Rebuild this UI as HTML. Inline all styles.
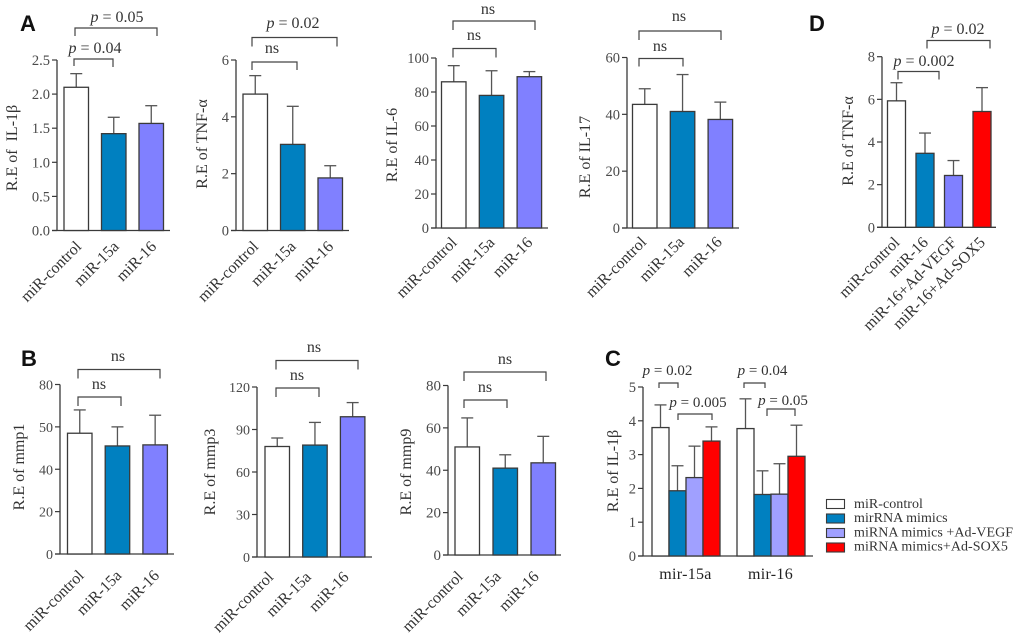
<!DOCTYPE html>
<html lang="en">
<head>
<meta charset="utf-8">
<title>Relative expression bar charts</title>
<style>
html,body{margin:0;padding:0;background:#fff;}
#figure{display:block;width:1020px;height:642px;font-family:"Liberation Serif",serif;filter:blur(0.35px);}
#figure text{white-space:pre;}
</style>
</head>
<body>
<svg id="figure" xmlns="http://www.w3.org/2000/svg" width="1020" height="642" viewBox="0 0 1020 642"></svg>
<script>
// ---------- chart data ----------
const threeCategories = ['miR-control', 'miR-15a', 'miR-16'];
const fourCategories = ['miR-control', 'miR-16', 'miR-16+Ad-VEGF', 'miR-16+Ad-SOX5'];

const il1bValues = [2.1, 1.42, 1.57];
const il1bErrors = [0.2, 0.24, 0.26];
const il1bTicks = [0, 0.5, 1, 1.5, 2, 2.5];
const il1bTickLabels = ['0.0', '0.5', '1.0', '1.5', '2.0', '2.5'];

const tnfValues = [4.8, 3.03, 1.85];
const tnfErrors = [0.65, 1.34, 0.43];
const tnfTicks = [0, 2, 4, 6];
const tnfTickLabels = ['0', '2', '4', '6'];

const il6Values = [86, 78, 89];
const il6Errors = [9.5, 14.5, 3];
const il6Ticks = [0, 20, 40, 60, 80, 100];
const il6TickLabels = ['0', '20', '40', '60', '80', '100'];

const il17Values = [43.5, 41, 38.2];
const il17Errors = [5.5, 13, 6.1];
const il17Ticks = [0, 20, 40, 60];
const il17TickLabels = ['0', '20', '40', '60'];

const tnfDValues = [5.93, 3.47, 2.43, 5.43];
const tnfDErrors = [0.85, 0.95, 0.7, 1.12];
const tnfDTicks = [0, 2, 4, 6, 8];
const tnfDTickLabels = ['0', '2', '4', '6', '8'];

const mmp1Values = [57, 51, 51.5];
const mmp1Errors = [11, 9, 14];
const mmp1Ticks = [0, 20, 40, 60, 80];
const mmp1TickLabels = ['0', '20', '40', '50', '80'];

const mmp3Values = [78, 79, 99];
const mmp3Errors = [6, 16, 10];
const mmp3Ticks = [0, 30, 60, 90, 120];
const mmp3TickLabels = ['0', '30', '60', '90', '120'];

const mmp9Values = [51, 41, 43.5];
const mmp9Errors = [13.7, 6.3, 12.5];
const mmp9Ticks = [0, 20, 40, 60, 80];
const mmp9TickLabels = ['0', '20', '40', '60', '80'];

const groupCategories = ['mir-15a', 'mir-16'];
const controlValues = [3.8, 3.77];
const controlErrors = [0.67, 0.88];
const mimicsValues = [1.93, 1.82];
const mimicsErrors = [0.74, 0.7];
const vegfValues = [2.32, 1.83];
const vegfErrors = [0.93, 0.9];
const sox5Values = [3.4, 2.95];
const sox5Errors = [0.42, 0.92];
const groupTicks = [0, 1, 2, 3, 4, 5];
const groupTickLabels = ['0', '1', '2', '3', '4', '5'];
const legendLabels = ['miR-control', 'mirRNA mimics', 'miRNA mimics +Ad-VEGF', 'miRNA mimics+Ad-SOX5'];

// ---------- styles ----------
const WHITE = '#ffffff', BLUE = '#0080c0', PERI = '#8080ff', LILAC = '#a0a0ff', RED = '#ff0000';
const INK = '#3a3a3a', TEXT = '#333333', TICKTEXT = '#4a4a4a';
const svg = document.getElementById('figure');
const NS = 'http://www.w3.org/2000/svg';

function make(tag, attrs, parent, text) {
  const node = document.createElementNS(NS, tag);
  for (const key in attrs) node.setAttribute(key, attrs[key]);
  if (text !== undefined) node.textContent = text;
  (parent || svg).appendChild(node);
  return node;
}
function slug(s) {
  return String(s).toLowerCase().replace(/[^a-z0-9]+/g, '-').replace(/^-|-$/g, '');
}

function drawAxes(g, box, ticks, labels, yMax, yTitle, titleX, titleY) {
  const y = v => box.y0 - (v / yMax) * (box.y0 - box.yTop);
  const yAxis = make('line', {x1: box.x, x2: box.x, y1: box.yTop, y2: box.y0, stroke: INK, 'stroke-width': 1.3}, g);
  
  
  const xAxis = make('line', {x1: box.x - 5, x2: box.xEnd, y1: box.y0, y2: box.y0, stroke: INK, 'stroke-width': 1.3}, g);
  
  
  ticks.forEach((t, i) => {
    const tick = make('line', {x1: box.x - 5, x2: box.x, y1: y(t), y2: y(t), stroke: INK, 'stroke-width': 1.2}, g);
    
    
    const lab = make('text', {x: box.x - 7, y: y(t) + 5, 'text-anchor': 'end', 'font-size': box.tickSize || 14.5, fill: TICKTEXT}, g, labels[i]);
    
    
  });
  const title = make('text', {x: titleX, y: titleY, 'text-anchor': 'middle', 'font-size': 16, fill: TEXT,
    transform: 'rotate(-90 ' + titleX + ' ' + titleY + ')'}, g, yTitle);
  
  
  return y;
}

function drawBar(g, x, w, y0, yTop, yErr, color, name) {
  const cx = x + w / 2;
  const stem = make('line', {x1: cx, x2: cx, y1: yTop, y2: yErr, stroke: '#555', 'stroke-width': 1.3}, g);
  
  
  const capHalf = Math.min(6, w / 2 - 2);
  const cap = make('line', {x1: cx - capHalf, x2: cx + capHalf, y1: yErr, y2: yErr, stroke: '#555', 'stroke-width': 1.3}, g);
  
  
  const bar = make('rect', {x: x, y: yTop, width: w, height: y0 - yTop, fill: color, stroke: INK, 'stroke-width': 1.3}, g);
  
  
}

function barPanel(id, box, categories, values, errors, colors, ticks, labels, yTitle, titleX, titleY) {
  const g = make('g', {});
  
  
  const yMax = ticks[ticks.length - 1];
  const y = drawAxes(g, box, ticks, labels, yMax, yTitle, titleX, titleY);
  categories.forEach((c, i) => {
    const x = box.barStart + i * box.step;
    drawBar(g, x, box.barW, box.y0, y(values[i]), y(values[i] + errors[i]), colors[i], slug(c));
    const ax = x + box.barW / 2 + box.labelDx, ay = box.y0 + box.labelDy;
    const lab = make('text', {x: ax, y: ay, 'text-anchor': 'end', 'font-size': 16, fill: TEXT,
      transform: 'rotate(-45 ' + ax + ' ' + ay + ')'}, g, c);
    
    
  });
  return g;
}

function bracket(x1, x2, y, dropL, dropR) {
  const p = make('path', {d: 'M' + x1 + ' ' + (y + dropL) + 'V' + y + 'H' + x2 + 'V' + (y + dropR), fill: 'none', stroke: '#444', 'stroke-width': 1.2});
  
  
}
function ns(cx, y) {
  const t = make('text', {x: cx, y: y, 'text-anchor': 'middle', 'font-size': 16, fill: TEXT}, svg, 'ns');
  
  
}
function pval(cx, y, rest, size) {
  const t = make('text', {x: cx, y: y, 'text-anchor': 'middle', 'font-size': size || 16, fill: TEXT});
  
  
  make('tspan', {'font-style': 'italic'}, t, 'p');
  make('tspan', {}, t, rest);
}
function panelLetter(ch, x, y) {
  const t = make('text', {x: x, y: y, 'font-family': '"Liberation Sans",sans-serif', 'font-weight': 'bold', 'font-size': 22, fill: '#111'}, svg, ch);
  
  
}

// ---------- panels ----------
const three = [WHITE, BLUE, PERI];
barPanel('il-1b', {x: 57, xEnd: 170, y0: 230.5, yTop: 60, barStart: 64, step: 37.5, barW: 24.5, labelDx: 6, labelDy: 17}, threeCategories, il1bValues, il1bErrors, three, il1bTicks, il1bTickLabels, 'R.E of  IL-1β', 17, 148);
barPanel('tnf-a', {x: 236, xEnd: 349, y0: 230.5, yTop: 60, barStart: 243, step: 37.5, barW: 24.5, labelDx: 4, labelDy: 17}, threeCategories, tnfValues, tnfErrors, three, tnfTicks, tnfTickLabels, 'R.E of TNF-α', 207, 144);
barPanel('il-6', {x: 436, xEnd: 548, y0: 228, yTop: 58, barStart: 441.5, step: 37.8, barW: 24.5, labelDx: 4, labelDy: 15.5}, threeCategories, il6Values, il6Errors, three, il6Ticks, il6TickLabels, 'R.E of IL-6', 397, 145);
barPanel('il-17', {x: 627, xEnd: 739, y0: 228, yTop: 57.5, barStart: 632.5, step: 37.8, barW: 24.5, labelDx: 2.5, labelDy: 15}, threeCategories, il17Values, il17Errors, three, il17Ticks, il17TickLabels, 'R.E of IL-17', 590, 157);
barPanel('tnf-a-d', {x: 882, xEnd: 996, y0: 227.3, yTop: 56.7, barStart: 887.5, step: 28.5, barW: 18, labelDx: 4, labelDy: 16}, fourCategories, tnfDValues, tnfDErrors, [WHITE, BLUE, PERI, RED], tnfDTicks, tnfDTickLabels, 'R.E of TNF-α', 853, 141);
barPanel('mmp1', {x: 60, xEnd: 174, y0: 554, yTop: 384.5, barStart: 67.5, step: 37.7, barW: 24.5, labelDx: 5, labelDy: 22.5, tickSize: 14}, threeCategories, mmp1Values, mmp1Errors, three, mmp1Ticks, mmp1TickLabels, 'R.E of mmp1', 24, 467);
barPanel('mmp3', {x: 257, xEnd: 372, y0: 557, yTop: 387, barStart: 265, step: 37.7, barW: 24.5, labelDx: -3, labelDy: 21, tickSize: 14}, threeCategories, mmp3Values, mmp3Errors, three, mmp3Ticks, mmp3TickLabels, 'R.E of mmp3', 215, 472);
barPanel('mmp9', {x: 448, xEnd: 561, y0: 555, yTop: 385.5, barStart: 455, step: 38, barW: 24.5, labelDx: -3.5, labelDy: 22.5, tickSize: 15}, threeCategories, mmp9Values, mmp9Errors, three, mmp9Ticks, mmp9TickLabels, 'R.E of mmp9', 411, 472);

// panel C: grouped bars
(function () {
  const box = {x: 643, xEnd: 813, y0: 556, yTop: 387};
  const g = make('g', {});
  
  
  const y = drawAxes(g, box, groupTicks, groupTickLabels, 5, 'R.E of IL-1β', 618, 471);
  const series = [
    {values: controlValues, errors: controlErrors, color: WHITE},
    {values: mimicsValues, errors: mimicsErrors, color: BLUE},
    {values: vegfValues, errors: vegfErrors, color: LILAC},
    {values: sox5Values, errors: sox5Errors, color: RED}
  ];
  const groupStart = 652, groupStep = 85, barW = 17;
  groupCategories.forEach((c, gi) => {
    series.forEach((s, si) => {
      const x = groupStart + gi * groupStep + si * barW;
      drawBar(g, x, barW, box.y0, y(s.values[gi]), y(s.values[gi] + s.errors[gi]), s.color, slug(c) + '-' + slug(legendLabels[si]));
    });
    const lab = make('text', {x: groupStart + gi * groupStep + 2 * barW - 0.5, y: 579, 'text-anchor': 'middle', 'font-size': 16, fill: '#222', 'letter-spacing': '0.3'}, g, c);
    
    
  });
  // legend
  const legend = make('g', {});
  
  
  legendLabels.forEach((label, i) => {
    const top = 499.5 + i * 14.5;
    const sw = make('rect', {x: 826.5, y: top, width: 18, height: 9, fill: series[i].color, stroke: INK, 'stroke-width': 1.1}, legend);
    
    
    const t = make('text', {x: 854, y: 507.8 + i * 14.3, 'font-size': 14, 'letter-spacing': '0.05', fill: TEXT}, legend, label);
    
    
  });
})();

// ---------- annotations ----------
panelLetter('A', 20, 31);
panelLetter('B', 21, 366);
panelLetter('C', 605, 366);
panelLetter('D', 809, 31);

bracket(74, 113, 59, 7, 8);   pval(95, 53, ' = 0.04');
bracket(75, 157, 28, 8, 8);   pval(117, 22, ' = 0.05');
bracket(252, 297, 62, 8, 8);  ns(272, 53);
bracket(252, 337, 37.5, 9, 9); pval(293, 28, ' = 0.02');
bracket(453, 496, 48.5, 9, 9); ns(474, 40);
bracket(453, 535, 21, 9, 9);  ns(488, 14);
bracket(639, 683, 58.5, 8, 8); ns(660, 51);
bracket(639, 721, 31, 9, 9);  ns(679, 21);
bracket(898, 939, 71.5, 8, 8); pval(924, 66, ' = 0.002');
bracket(927, 990, 40.5, 8, 8); pval(958, 34, ' = 0.02');
bracket(78, 121, 397, 9, 9);  ns(99, 389);
bracket(78, 160, 369.5, 9, 9); ns(118, 361);
bracket(276, 319, 388, 9, 9); ns(297, 380);
bracket(276, 358, 360.5, 9, 9); ns(314, 352);
bracket(464, 507, 400, 8, 8); ns(485, 392);
bracket(464, 546, 372, 9, 9); ns(505, 364);
bracket(659, 678, 383, 5, 5); pval(667.5, 375, ' = 0.02', 15);
bracket(678, 712, 414, 6, 6); pval(698, 407, ' = 0.005', 15);
bracket(744, 765, 383, 5, 5); pval(762.5, 375, ' = 0.04', 15);
bracket(767, 795, 409, 7, 7); pval(783, 405, ' = 0.05', 15);
</script>
</body>
</html>
